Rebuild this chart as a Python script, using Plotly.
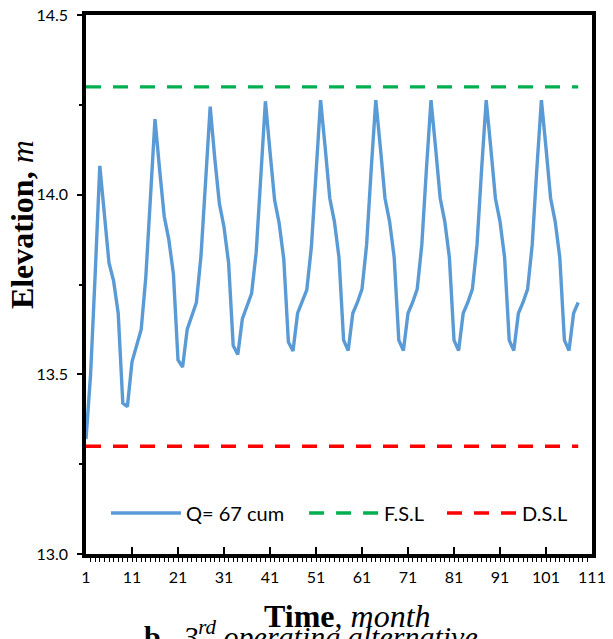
import plotly.graph_objects as go

# ---------------- data ----------------
months = list(range(1, 109))
elevation = [
    13.32, 13.50, 13.78, 14.08, 13.945, 13.81, 13.76, 13.67, 13.42, 13.41, 13.535, 13.58,
    13.625, 13.77, 13.98, 14.21, 14.07, 13.94, 13.875, 13.78, 13.54, 13.52, 13.625, 13.66,
    13.70, 13.83, 14.03, 14.245, 14.10, 13.975, 13.91, 13.81, 13.58, 13.555, 13.655, 13.69,
    13.725, 13.84, 14.045, 14.26, 14.12, 13.985, 13.92, 13.82, 13.59, 13.565, 13.67, 13.70,
    13.735, 13.855, 14.06, 14.263, 14.13, 13.99, 13.925, 13.825, 13.595, 13.566, 13.67, 13.70,
    13.737, 13.86, 14.07, 14.263, 14.13, 13.99, 13.925, 13.825, 13.595, 13.566, 13.67, 13.70,
    13.737, 13.86, 14.07, 14.263, 14.13, 13.99, 13.925, 13.825, 13.595, 13.566, 13.67, 13.70,
    13.737, 13.86, 14.07, 14.263, 14.13, 13.99, 13.925, 13.825, 13.595, 13.566, 13.67, 13.70,
    13.737, 13.86, 14.07, 14.263, 14.13, 13.99, 13.925, 13.825, 13.595, 13.566, 13.67, 13.70,
]
FSL_LEVEL = 14.3
DSL_LEVEL = 13.3
series_names = ["Q= 67 cum", "F.S.L", "D.S.L"]
x_tick_labels = ["1", "11", "21", "31", "41", "51", "61", "71", "81", "91", "101", "111"]
x_tick_values = [1, 11, 21, 31, 41, 51, 61, 71, 81, 91, 101, 111]
y_tick_values = [13.0, 13.5, 14.0, 14.5]

# ---------------- figure ----------------
TICK_FONT = dict(family="Lato, 'Open Sans', sans-serif", size=16, color="black")
LEGEND_FONT = dict(family="Lato, 'Open Sans', sans-serif", size=20, color="black")
SERIF = "'Liberation Serif', 'DejaVu Serif', serif"

fig = go.Figure()
fig.add_trace(go.Scatter(
    x=months, y=elevation, mode="lines", name=series_names[0], legend="legend",
    line=dict(color="#5B9BD5", width=3.4),
))
fig.add_trace(go.Scatter(
    x=months, y=[FSL_LEVEL] * len(months), mode="lines", name=series_names[1], legend="legend2",
    line=dict(color="#00B050", width=3.4, dash="15px,12px"),
))
fig.add_trace(go.Scatter(
    x=months, y=[DSL_LEVEL] * len(months), mode="lines", name=series_names[2], legend="legend3",
    line=dict(color="#FF0000", width=3.4, dash="15px,12px"),
))

def legend_box(xpos):
    return dict(orientation="h", x=xpos, y=0.076, xanchor="left", yanchor="middle",
                font=LEGEND_FONT, bgcolor="rgba(0,0,0,0)", itemwidth=70)

fig.update_layout(
    width=613, height=639,
    margin=dict(l=86, r=21, t=15, b=85),
    plot_bgcolor="white", paper_bgcolor="white",
    showlegend=True,
    legend=legend_box(0.0395),
    legend2=legend_box(0.431),
    legend3=legend_box(0.7036),
    xaxis=dict(
        range=[1, 111], tickmode="array", tickvals=x_tick_values, ticktext=x_tick_labels,
        ticks="inside", ticklen=7, tickwidth=2, tickcolor="black",
        minor=dict(tickmode="linear", tick0=1, dtick=1, ticks="outside",
                   ticklen=4, tickwidth=1, tickcolor="black"),
        showline=True, linewidth=3.5, linecolor="black", mirror=True,
        showgrid=False, zeroline=False, tickfont=TICK_FONT, ticklabelstandoff=6,
        automargin=False,
    ),
    yaxis=dict(
        range=[13.0, 14.5], tickmode="array", tickvals=y_tick_values,
        ticktext=[f"{v:.1f}" for v in y_tick_values],
        ticks="outside", ticklen=5, tickwidth=2, tickcolor="black",
        minor=dict(tickmode="linear", tick0=13.0, dtick=0.25, ticks="outside",
                   ticklen=3, tickwidth=2, tickcolor="black"),
        showline=True, linewidth=3.5, linecolor="black", mirror=True,
        showgrid=False, zeroline=False, tickfont=TICK_FONT, ticklabelstandoff=6,
        automargin=False,
    ),
    annotations=[
        dict(text="<b>Elevation,</b> <i>m</i>", textangle=-90,
             xref="paper", yref="paper", x=-0.1265, y=0.612,
             xanchor="center", yanchor="middle", showarrow=False,
             font=dict(family=SERIF, size=32, color="black")),
        dict(text="<b>Time</b>, <i>month</i>",
             xref="paper", yref="paper", x=0.517, y=-0.078,
             xanchor="center", yanchor="top", showarrow=False,
             font=dict(family=SERIF, size=32, color="black")),
        dict(text="<b>b.</b>  <i>3<sup>rd</sup> operating alternative</i>",
             xref="paper", yref="paper", x=0.445, y=-0.109,
             xanchor="center", yanchor="top", showarrow=False,
             font=dict(family=SERIF, size=30, color="black")),
    ],
)

fig.write_html("out.html", config={"displayModeBar": False},
               post_script="document.body.style.margin='0';")
